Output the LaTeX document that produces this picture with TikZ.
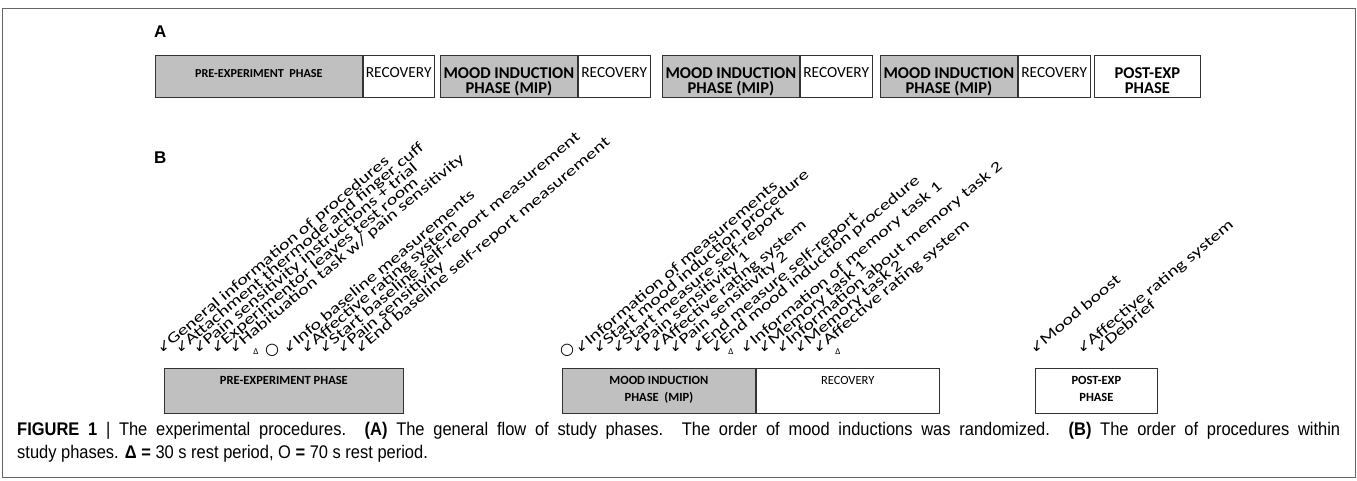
\documentclass[tikz,border=0pt]{standalone}
\usepackage{fontspec}
\setmainfont{Carlito}
\newfontfamily\symfont{DejaVu Sans}
\newfontfamily\headfont{Liberation Sans}
\newfontfamily\capfont[FakeStretch=0.9]{Liberation Sans}
\newfontfamily\procfont[FakeStretch=1.35]{Carlito}
\usetikzlibrary{positioning}
\definecolor{phasegray}{RGB}{192,192,192}
\definecolor{framegray}{RGB}{100,100,100}
\newcommand{\dnarrow}{{\symfont\fontsize{15}{15}\selectfont ↙}}
\tikzset{
  phase/.style={draw=black!80, line width=0.8pt, fill=phasegray, inner sep=0pt, anchor=north west},
  rec/.style={phase, fill=white},
  bigtxt/.style={inner sep=0pt, align=center, font=\bfseries\fontsize{16.5}{15}\selectfont},
  smalltxt/.style={inner sep=0pt, align=center, font=\bfseries\fontsize{12.2}{13}\selectfont},
  rectxt/.style={inner sep=0pt, font=\fontsize{15.4}{15}\selectfont},
  boxtxt/.style={inner sep=0pt, align=center, font=\bfseries\fontsize{12.5}{17}\selectfont},
  recbtxt/.style={inner sep=0pt, font=\fontsize{12.5}{17}\selectfont},
  proc/.style={rotate=40, anchor=base west, inner sep=0pt, font=\procfont\fontsize{15}{15}\selectfont},
  tri/.style={anchor=base, inner sep=0pt, font=\fontsize{9}{9}\selectfont},
  circ/.style={anchor=base, inner sep=0pt, font=\symfont\fontsize{16}{16}\selectfont},
  panelletter/.style={anchor=base west, inner sep=0pt, font=\headfont\bfseries\fontsize{17}{17}\selectfont},
  captxt/.style={anchor=north west, inner sep=0pt, align=left, font=\capfont\fontsize{18.3}{23.5}\selectfont}
}

\begin{document}
\begin{tikzpicture}[x=1pt,y=-1pt]
\useasboundingbox (0,0) rectangle (1357,480);
\def\yta{55} \def\ha{42pt} \def\ytb{368} \def\hb{45pt} \def\yarr{354}
\draw[framegray, line width=1pt] (2,8) rectangle (1355,477);

% panel A: general flow
\node[panelletter] (letA) at (154,37) {A};
\node[phase, minimum width=207pt, minimum height=\ha] (preA) at (155,\yta) {};
\node[rec, minimum width=71pt, minimum height=\ha] (recA0) at (preA.north east) {};
\node[smalltxt, below=14pt of preA.north] (preAt) {PRE-EXPERIMENT\ \ PHASE};
\node[rectxt, below=12pt of recA0.north] (recA0t) {RECOVERY};
\foreach \i/\xa in {1/440, 2/662, 3/880} {
  \node[phase, minimum width=137pt, minimum height=\ha] (mipA\i) at (\xa,\yta) {};
  \node[rec, minimum width=72pt, minimum height=\ha] (recA\i) at (mipA\i.north east) {};
  \node[bigtxt, below=12pt of mipA\i.north] (mipA\i t) {MOOD INDUCTION\\PHASE (MIP)};
  \node[rectxt, below=12pt of recA\i.north] (recA\i t) {RECOVERY};
}
\node[rec, minimum width=106pt, minimum height=\ha] (postA) at (1094,\yta) {};
\node[bigtxt, below=12pt of postA.north] (postAt) {POST-EXP\\PHASE};

% panel B: procedures within phases
\node[panelletter] (letB) at (154,163) {B};
\node[phase, minimum width=239pt, minimum height=\hb] (preB) at (164,\ytb) {};
\node[boxtxt, below=8pt of preB.north] (preBt) {PRE-EXPERIMENT PHASE};
\node[phase, minimum width=193pt, minimum height=\hb] (mipB) at (562,\ytb) {};
\node[rec, minimum width=183pt, minimum height=\hb] (recB) at (mipB.north east) {};
\node[boxtxt, below=8pt of mipB.north] (mipBt) {MOOD INDUCTION\\PHASE\ \ (MIP)};
\node[recbtxt, below=8pt of recB.north] (recBt) {RECOVERY};
\node[rec, minimum width=122pt, minimum height=\hb] (postB) at (1035,\ytb) {};
\node[boxtxt, below=8pt of postB.north] (postBt) {POST-EXP\\PHASE};

\foreach \x/\lbl [count=\k] in {162/{General information of procedures}, 180/{Attachment thermode and finger cuff},
    198/{Pain sensitivity instructions + trial}, 216/{Experimentor leaves test room},
    234/{Habituation task w/ pain sensitivity}, 288/{Info baseline measurements},
    306/{Affective rating system}, 324/{Start baseline self-report measurement},
    342/{Pain sensitivity}, 360/{End baseline self-report measurement}}
  \node[proc] (pre\k) at (\x,\yarr) {\dnarrow\lbl};
\node[tri] (preTri) at (256,\yarr) {Δ};
\node[circ] (preCirc) at (272,\yarr) {○};

\foreach \x/\lbl [count=\k] in {580/{Information of measurements}, 598/{Start mood induction procedure},
    617/{Start measure self-report}, 636/{Pain sensitivity 1}, 655/{Affective rating system},
    674/{Pain sensitivity 2}, 697/{End measure self-report}, 715/{End mood induction procedure},
    745/{Information of memory task 1}, 763/{Memory task 1}, 781/{Information about memory task 2},
    799/{Memory task 2}, 818/{Affective rating system}}
  \node[proc] (mip\k) at (\x,\yarr) {\dnarrow\lbl};
\node[circ] (mipCirc) at (567,\yarr) {○};
\node[tri] (mipTriA) at (731,\yarr) {Δ};
\node[tri] (mipTriB) at (838,\yarr) {Δ};

\foreach \x/\lbl [count=\k] in {1035/{Mood boost}, 1082/{Affective rating system}, 1100/{Debrief}}
  \node[proc] (post\k) at (\x,\yarr) {\dnarrow\lbl};

% caption
\node[captxt] (cap) at (17,422) {\makebox[1323pt][s]{\textbf{FIGURE 1} | The experimental procedures. \textbf{(A)} The general flow of study phases. The order of mood inductions was randomized. \textbf{(B)} The order of procedures within}\\
study phases. \textbf{Δ =} 30 s rest period, O \textbf{=} 70 s rest period.};
\end{tikzpicture}
\end{document}
